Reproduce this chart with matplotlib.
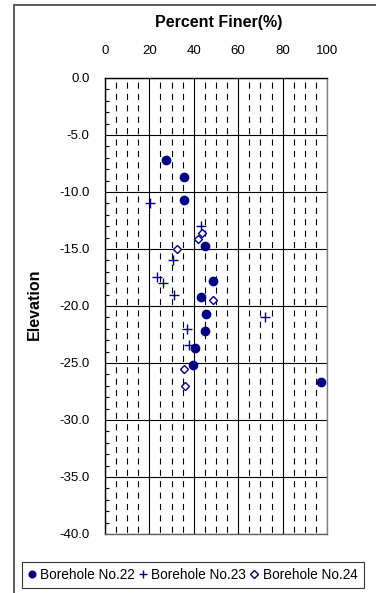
import numpy as np
import matplotlib.pyplot as plt
from matplotlib.ticker import MultipleLocator, FormatStrFormatter
from matplotlib.patches import Rectangle

plt.rcParams['font.family'] = ['Liberation Sans', 'DejaVu Sans']
plt.rcParams['lines.scale_dashes'] = False

# Percent finer (%) vs elevation
bh22_pf = [27.3, 35.6, 35.6, 45.0, 48.8, 43.3, 45.6, 45.0, 40.5, 39.7, 97.3]
bh22_el = [-7.2, -8.7, -10.7, -14.7, -17.8, -19.2, -20.7, -22.2, -23.7, -25.2, -26.7]

bh23_pf = [20.5, 43.3, 30.8, 23.5, 26.2, 31.1, 72.0, 37.1, 37.9]
bh23_el = [-11.0, -13.0, -16.0, -17.5, -18.0, -19.0, -21.0, -22.0, -23.4]

bh24_pf = [43.5, 42.1, 32.6, 48.8, 35.6, 36.2]
bh24_el = [-13.6, -14.1, -15.0, -19.5, -25.5, -27.0]

navy = '#000080'

fig = plt.figure(figsize=(3.76, 5.93), dpi=100)
ax = fig.add_axes([0.279, 0.0995, 0.591, 0.769])

ax.plot(bh22_pf, bh22_el, 'o', color=navy, ms=6, ls='none', label='Borehole No.22')
ax.plot(bh23_pf, bh23_el, '+', color=navy, ms=6.5, mew=1.0, ls='none', label='Borehole No.23')
ax.plot(bh24_pf, bh24_el, 'D', color=navy, mfc='white', ms=4.5, mew=1.0, ls='none', label='Borehole No.24')

ax.set_xlim(0, 100)
ax.set_ylim(-40, 0)
ax.xaxis.set_major_locator(MultipleLocator(20))
ax.xaxis.set_minor_locator(MultipleLocator(5))
ax.yaxis.set_major_locator(MultipleLocator(5))
ax.yaxis.set_minor_locator(MultipleLocator(1))
ax.yaxis.set_major_formatter(FormatStrFormatter('%.1f'))

ax.xaxis.tick_top()
ax.tick_params(axis='x', which='both', length=0, labelsize=9.5, pad=15)
ax.tick_params(axis='y', which='major', length=0, labelsize=9.5, pad=11)
ax.tick_params(axis='y', which='minor', direction='in', length=3, width=0.8)

ax.grid(True, which='major', color='black', lw=0.8)
ax.grid(True, which='minor', axis='x', color='black', lw=0.8,
        linestyle=(7.0, (4.4, 3.8)))
ax.set_axisbelow(True)

for s in ax.spines.values():
    s.set_linewidth(1.0)
ax.spines['right'].set_color('#808080')
ax.spines['bottom'].set_color('#606060')

fig.text(219 / 376, 1 - 22 / 593, 'Percent Finer(%)', fontsize=11.5,
         fontweight='bold', ha='center', va='center')
fig.text(34 / 376, 1 - 304 / 593, 'Elevation', fontsize=11.5,
         fontweight='bold', ha='center', va='center', rotation=90)

# outer chart frame
fig.patches.append(Rectangle((14 / 376, -0.02), 1.0, 1.02 - 5 / 593,
                             transform=fig.transFigure, fill=False,
                             edgecolor='#404040', lw=1.2))

leg = fig.legend(loc='upper left', bbox_to_anchor=(22 / 376, 1 - 562 / 593),
                 ncol=3, fontsize=9.8, numpoints=1, handlelength=0.5,
                 markerscale=0.8, handletextpad=0.4, columnspacing=0.3,
                 borderaxespad=0, fancybox=False, edgecolor='black',
                 borderpad=0.45)
leg.get_frame().set_linewidth(0.8)

fig.savefig('out.png', dpi=100)
